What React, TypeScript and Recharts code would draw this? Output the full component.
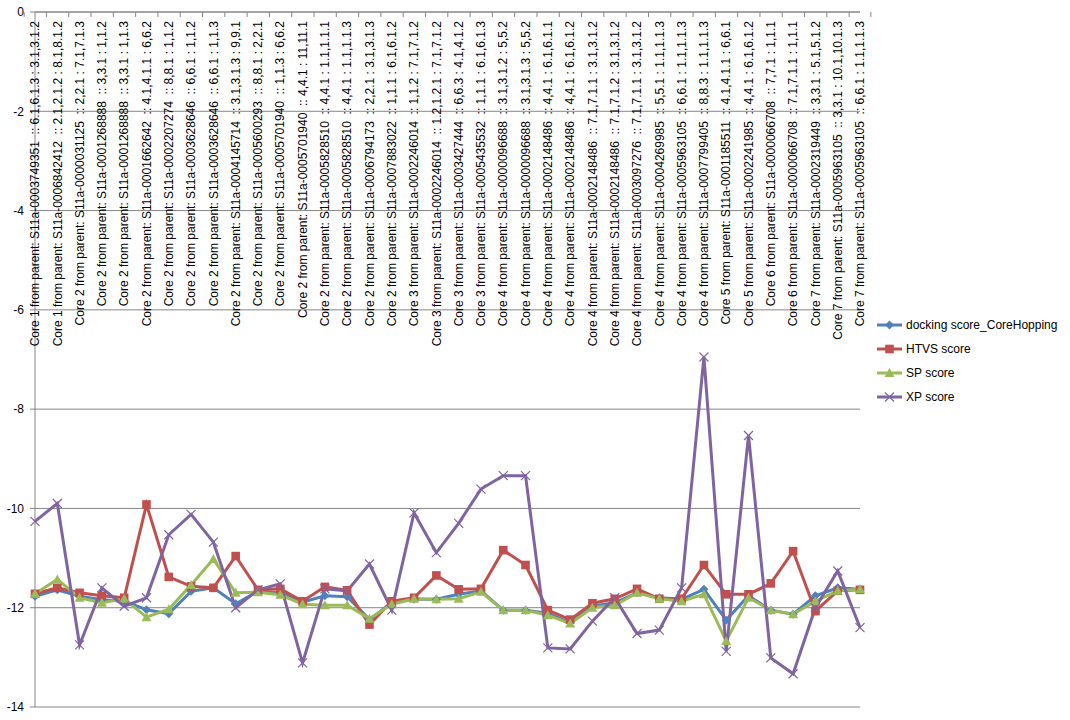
import React from "react";
import { LineChart, Line, XAxis, YAxis, CartesianGrid, Legend } from "recharts";

const categories: string[] = [
  "Core 1 from parent: S11a-0003749351  :: 6.1,6.1.3 : 3.1,3.1.2",
  "Core 1 from parent: S11a-0006842412  :: 2.1,2.1.2 : 8.1,8.1.2",
  "Core 2 from parent: S11a-0000031125  :: 2,2.1 : 7.1,7.1.3",
  "Core 2 from parent: S11a-0001268888  :: 3,3.1 : 1,1.2",
  "Core 2 from parent: S11a-0001268888  :: 3,3.1 : 1,1.3",
  "Core 2 from parent: S11a-0001662642  :: 4.1,4.1.1 : 6,6.2",
  "Core 2 from parent: S11a-0002207274  :: 8,8.1 : 1,1.2",
  "Core 2 from parent: S11a-0003628646  :: 6,6.1 : 1,1.2",
  "Core 2 from parent: S11a-0003628646  :: 6,6.1 : 1,1.3",
  "Core 2 from parent: S11a-0004145714  :: 3.1,3.1.3 : 9,9.1",
  "Core 2 from parent: S11a-0005600293  :: 8,8.1 : 2,2.1",
  "Core 2 from parent: S11a-0005701940  :: 1,1.3 : 6,6.2",
  "Core 2 from parent: S11a-0005701940  :: 4,4.1 : 11,11.1",
  "Core 2 from parent: S11a-0005828510  :: 4,4.1 : 1.1,1.1.1",
  "Core 2 from parent: S11a-0005828510  :: 4,4.1 : 1.1,1.1.3",
  "Core 2 from parent: S11a-0006794173  :: 2,2.1 : 3.1,3.1.3",
  "Core 2 from parent: S11a-0007883022  :: 1,1.1 : 6.1,6.1.2",
  "Core 3 from parent: S11a-0002246014  :: 1,1.2 : 7.1,7.1.2",
  "Core 3 from parent: S11a-0002246014  :: 1.2,1.2.1 : 7.1,7.1.2",
  "Core 3 from parent: S11a-0003427444  :: 6,6.3 : 4.1,4.1.2",
  "Core 3 from parent: S11a-0005435532  :: 1,1.1 : 6.1,6.1.3",
  "Core 4 from parent: S11a-0000096688  :: 3.1,3.1.2 : 5,5.2",
  "Core 4 from parent: S11a-0000096688  :: 3.1,3.1.3 : 5,5.2",
  "Core 4 from parent: S11a-0002148486  :: 4,4.1 : 6.1,6.1.1",
  "Core 4 from parent: S11a-0002148486  :: 4,4.1 : 6.1,6.1.2",
  "Core 4 from parent: S11a-0002148486  :: 7.1,7.1.1 : 3.1,3.1.2",
  "Core 4 from parent: S11a-0002148486  :: 7.1,7.1.2 : 3.1,3.1.2",
  "Core 4 from parent: S11a-0003097276  :: 7.1,7.1.1 : 3.1,3.1.2",
  "Core 4 from parent: S11a-0004269985  :: 5,5.1 : 1.1,1.1.3",
  "Core 4 from parent: S11a-0005963105  :: 6,6.1 : 1.1,1.1.3",
  "Core 4 from parent: S11a-0007799405  :: 8,8.3 : 1.1,1.1.3",
  "Core 5 from parent: S11a-0001185511  :: 4.1,4.1.1 : 6,6.1",
  "Core 5 from parent: S11a-0002241985  :: 4,4.1 : 6.1,6.1.2",
  "Core 6 from parent: S11a-0000066708  :: 7,7.1 : 1,1.1",
  "Core 6 from parent: S11a-0000066708  :: 7.1,7.1.1 : 1,1.1",
  "Core 7 from parent: S11a-0002319449  :: 3,3.1 : 5.1,5.1.2",
  "Core 7 from parent: S11a-0005963105  :: 3,3.1 : 10.1,10.1.3",
  "Core 7 from parent: S11a-0005963105  :: 6,6.1 : 1.1,1.1.3",
];

const dockingScore: number[] = [
  -11.77, -11.64, -11.77, -11.84, -11.87, -12.04, -12.12, -11.67, -11.6, -11.92,
  -11.67, -11.7, -11.89, -11.76, -11.78, -12.24, -11.9, -11.83, -11.83, -11.73,
  -11.66, -12.05, -12.05, -12.11, -12.3, -11.97, -11.9, -11.7, -11.8, -11.83,
  -11.63, -12.25, -11.76, -12.05, -12.13, -11.76, -11.6, -11.63,
];

const htvsScore: number[] = [
  -11.72, -11.6, -11.7, -11.76, -11.8, -9.92, -11.38, -11.57, -11.6, -10.96,
  -11.64, -11.62, -11.87, -11.58, -11.65, -12.34, -11.87, -11.8, -11.35, -11.63,
  -11.62, -10.84, -11.14, -12.05, -12.24, -11.91, -11.82, -11.62, -11.82, -11.82,
  -11.14, -11.73, -11.73, -11.51, -10.86, -12.07, -11.66, -11.64,
];

const spScore: number[] = [
  -11.72, -11.43, -11.8, -11.9, -11.82, -12.19, -12.03, -11.54, -11.02, -11.7,
  -11.69, -11.74, -11.93, -11.95, -11.95, -12.22, -11.93, -11.82, -11.83, -11.82,
  -11.68, -12.05, -12.05, -12.15, -12.32, -12.0, -11.95, -11.7, -11.82, -11.87,
  -11.73, -12.67, -11.8, -12.05, -12.13, -11.87, -11.66, -11.63,
];

const xpScore: number[] = [
  -10.26, -9.9, -12.75, -11.6, -11.97, -11.8, -10.53, -10.12, -10.68, -12.0,
  -11.64, -11.52, -13.11, -11.62, -11.66, -11.12, -12.05, -10.09, -10.89, -10.3,
  -9.61, -9.34, -9.34, -12.81, -12.83, -12.27, -11.8, -12.52, -12.45, -11.6,
  -6.95, -12.88, -8.53, -13.01, -13.33, -12.0, -11.26, -12.4,
];

const yTicks: number[] = [-14, -12, -10, -8, -6, -4, -2, 0];

const seriesNames = ["docking score_CoreHopping", "HTVS score", "SP score", "XP score"];

const data = categories.map((name, i) => ({
  name,
  dock: dockingScore[i],
  htvs: htvsScore[i],
  sp: spScore[i],
  xp: xpScore[i],
}));

const BLUE = "#4F81BD";
const RED = "#C0504D";
const GREEN = "#9BBB59";
const PURPLE = "#8064A2";
const AXIS = "#868686";
const FONT = "'Liberation Sans', Arial, sans-serif";

const W = 1070;
const H = 720;
const PLOT_LEFT = 35;
const PLOT_TOP = 12;
const PLOT_RIGHT = 860;
const PLOT_BOTTOM = 707;
const BAND = (PLOT_RIGHT - PLOT_LEFT) / categories.length;

type Shape = "diamond" | "square" | "triangle" | "x";

const Marker = ({ cx, cy, shape, color }: { cx: number; cy: number; shape: Shape; color: string }) => {
  if (cx == null || cy == null || isNaN(cx) || isNaN(cy)) return null;
  if (shape === "diamond") {
    const s = 4.5;
    return <path d={`M${cx},${cy - s}L${cx + s},${cy}L${cx},${cy + s}L${cx - s},${cy}Z`} fill={color} />;
  }
  if (shape === "square") {
    const s = 4.3;
    return <rect x={cx - s} y={cy - s} width={s * 2} height={s * 2} fill={color} />;
  }
  if (shape === "triangle") {
    const s = 5;
    return <path d={`M${cx},${cy - s}L${cx + s},${cy + s * 0.8}L${cx - s},${cy + s * 0.8}Z`} fill={color} />;
  }
  const s = 4.5;
  return (
    <g stroke={color} strokeWidth={1.2}>
      <line x1={cx - s} y1={cy - s} x2={cx + s} y2={cy + s} />
      <line x1={cx - s} y1={cy + s} x2={cx + s} y2={cy - s} />
    </g>
  );
};

const makeDot = (shape: Shape, color: string) => (props: any) => (
  <Marker key={`${shape}-${props.index}`} cx={props.cx} cy={props.cy} shape={shape} color={color} />
);

const CategoryTick = (props: any) => {
  const { x, payload, index } = props;
  const isLast = index === categories.length - 1;
  return (
    <g>
      <line x1={x - BAND / 2} y1={PLOT_TOP} x2={x - BAND / 2} y2={PLOT_TOP + 5} stroke={AXIS} />
      {isLast && <line x1={x + BAND / 2} y1={PLOT_TOP} x2={x + BAND / 2} y2={PLOT_TOP + 5} stroke={AXIS} />}
      <text
        transform={`translate(${x},${PLOT_TOP + 9}) rotate(-90)`}
        textAnchor="end"
        dy="0.35em"
        fontSize={12}
        fontFamily={FONT}
        fill="#000"
        style={{ whiteSpace: "pre" }}
      >
        {payload.value}
      </text>
    </g>
  );
};

const legendItems: { name: string; color: string; shape: Shape }[] = [
  { name: seriesNames[0], color: BLUE, shape: "diamond" },
  { name: seriesNames[1], color: RED, shape: "square" },
  { name: seriesNames[2], color: GREEN, shape: "triangle" },
  { name: seriesNames[3], color: PURPLE, shape: "x" },
];

const LegendContent = () => (
  <div style={{ fontFamily: FONT, fontSize: 12, color: "#000" }}>
    {legendItems.map((it) => (
      <div key={it.name} style={{ display: "flex", alignItems: "center", height: 24 }}>
        <svg width={34} height={24} style={{ display: "block" }}>
          <line x1={5} y1={12} x2={30} y2={12} stroke={it.color} strokeWidth={3} />
          <Marker cx={17.5} cy={12} shape={it.shape} color={it.color} />
        </svg>
        <span style={{ whiteSpace: "nowrap" }}>{it.name}</span>
      </div>
    ))}
  </div>
);

export default function App() {
  return (
    <div style={{ position: "absolute", left: 0, top: 0, width: W, height: H, background: "#fff" }}>
      <LineChart
        width={W}
        height={H}
        data={data}
        margin={{ top: 0, right: W - PLOT_RIGHT, bottom: H - PLOT_BOTTOM, left: 0 }}
      >
        <CartesianGrid vertical={false} stroke={AXIS} strokeWidth={1} />
        <XAxis
          dataKey="name"
          type="category"
          orientation="top"
          height={PLOT_TOP}
          interval={0}
          tickLine={false}
          axisLine={{ stroke: AXIS }}
          tick={<CategoryTick />}
        />
        <YAxis
          type="number"
          domain={[-14, 0]}
          ticks={yTicks}
          width={PLOT_LEFT}
          tickSize={5}
          tickMargin={6}
          tickLine={{ stroke: AXIS }}
          axisLine={{ stroke: AXIS }}
          tick={{ fontSize: 12, fontFamily: FONT, fill: "#000" }}
          interval={0}
        />
        <Line
          dataKey="dock"
          name={seriesNames[0]}
          stroke={BLUE}
          strokeWidth={3}
          dot={makeDot("diamond", BLUE)}
          activeDot={false}
          isAnimationActive={false}
        />
        <Line
          dataKey="htvs"
          name={seriesNames[1]}
          stroke={RED}
          strokeWidth={3}
          dot={makeDot("square", RED)}
          activeDot={false}
          isAnimationActive={false}
        />
        <Line
          dataKey="sp"
          name={seriesNames[2]}
          stroke={GREEN}
          strokeWidth={3}
          dot={makeDot("triangle", GREEN)}
          activeDot={false}
          isAnimationActive={false}
        />
        <Line
          dataKey="xp"
          name={seriesNames[3]}
          stroke={PURPLE}
          strokeWidth={3}
          dot={makeDot("x", PURPLE)}
          activeDot={false}
          isAnimationActive={false}
        />
        <Legend
          layout="horizontal"
          verticalAlign="middle"
          align="center"
          content={<LegendContent />}
          wrapperStyle={{ position: "absolute", left: 872, top: 313, width: 198, height: 96 }}
        />
      </LineChart>
    </div>
  );
}
